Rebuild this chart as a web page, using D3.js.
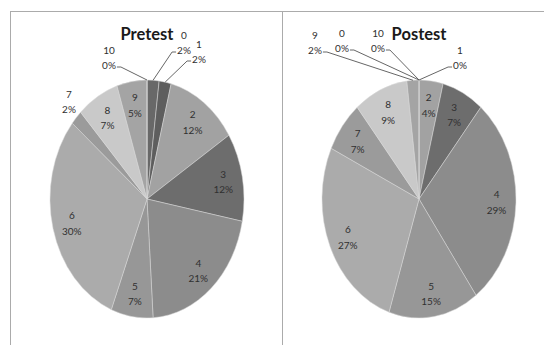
<!DOCTYPE html>
<html>
<head>
<meta charset="utf-8">
<script src="https://cdn.jsdelivr.net/npm/d3@7"></script>
<style>
  html, body { margin: 0; padding: 0; background: #fff; }
  svg { display: block; }
</style>
</head>
<body>
<svg id="chart" width="544" height="345"></svg>
<script>
// Score categories and the share of students in each (percent)
const categories = ["0", "1", "2", "3", "4", "5", "6", "7", "8", "9", "10"];
const pretestPct = [2, 2, 12, 12, 21, 7, 30, 2, 7, 5, 0];
const postestPct = [0, 0, 4, 7, 29, 15, 27, 7, 9, 2, 0];
const chartTitles = ["Pretest", "Postest"];

// Gray fill for each score category
const sliceGrays = ["#686868", "#5e5e5e", "#a2a2a2", "#6d6d6d", "#8c8c8c", "#979797",
                    "#ababab", "#9b9b9b", "#c9c9c9", "#a4a4a4", "#8a8a8a"];

// Labels that sit outside the pie: offsets of the label centre from the pie
// centre, and which side of the label the leader line leaves from.
const pretestCallouts = [
  { index: 0, dx: 37, dy: -157, side: "left", leader: true },
  { index: 1, dx: 52, dy: -148, side: "left", leader: true },
  { index: 10, dx: -38, dy: -142, side: "right", leader: true },
  { index: 7, dx: -78, dy: -98, side: "right", leader: false }
];
const postestCallouts = [
  { index: 9, dx: -104, dy: -157, side: "right", leader: true },
  { index: 0, dx: -77, dy: -159, side: "right", leader: true },
  { index: 10, dx: -41, dy: -159, side: "right", leader: true },
  { index: 1, dx: 41, dy: -142, side: "left", leader: true }
];

const svg = d3.select("#chart");
const W = 544, H = 345;

// Frame lines
const frame = svg.append("g").attr("stroke", "#ababab").attr("stroke-width", 1);
frame.append("line").attr("x1", 10).attr("x2", W).attr("y1", 11.5).attr("y2", 11.5);
frame.append("line").attr("x1", 10.5).attr("x2", 10.5).attr("y1", 11).attr("y2", H);
frame.append("line").attr("x1", 282.5).attr("x2", 282.5).attr("y1", 11).attr("y2", H);

const ry = 119, rx = 97;
const labelFont = "Lato, 'Open Sans', sans-serif";

function drawPie(values, title, cx, cy, callouts) {
  const g = svg.append("g");
  const pie = d3.pie().sort(null).value(d => d)(values);
  const arc = d3.arc().innerRadius(0).outerRadius(ry);

  // Pie squashed horizontally into an ellipse
  const pieG = g.append("g")
    .attr("transform", `translate(${cx},${cy}) scale(${rx / ry},1)`);
  pieG.selectAll("path")
    .data(pie)
    .join("path")
    .attr("d", arc)
    .attr("fill", (d, i) => sliceGrays[i])
    .attr("stroke", "#d8d8d8")
    .attr("stroke-width", 0.5)
    .attr("vector-effect", "non-scaling-stroke");

  // point on the ellipse at angle a and radial fraction f
  const at = (a, f) => [cx + rx * f * Math.sin(a), cy - ry * f * Math.cos(a)];

  g.append("text")
    .attr("x", cx).attr("y", 40)
    .attr("text-anchor", "middle")
    .attr("font-family", labelFont)
    .attr("font-weight", "bold")
    .attr("font-size", 16.5)
    .attr("fill", "#1a1a1a")
    .text(title);

  const calloutMap = new Map(callouts.map(c => [c.index, c]));
  const labels = g.append("g")
    .attr("font-family", labelFont)
    .attr("font-size", 10)
    .attr("fill", "#303030")
    .attr("text-anchor", "middle");

  pie.forEach((d, i) => {
    const mid = (d.startAngle + d.endAngle) / 2;
    const c = calloutMap.get(i);
    let lx, ly;
    if (c) { lx = cx + c.dx; ly = cy + c.dy; }
    else { [lx, ly] = at(mid, 0.8); }
    const t1 = labels.append("text").attr("x", lx).attr("y", ly - 3.5).text(categories[i]);
    const t2 = labels.append("text").attr("x", lx).attr("y", ly + 12).text(values[i] + "%");
    if (c && c.leader) {
      const bb = t2.node().getBBox();
      const sy = bb.y + bb.height / 2 + 2;
      const sx = c.side === "left" ? bb.x - 1 : bb.x + bb.width + 1;
      const hx = c.side === "left" ? sx - 4 : sx + 4;
      const [ex, ey] = at(mid, 1);
      g.append("path")
        .attr("d", `M${sx},${sy}L${hx},${sy}L${ex},${ey}`)
        .attr("fill", "none")
        .attr("stroke", "#555")
        .attr("stroke-width", 0.9);
    }
  });
}

drawPie(pretestPct, chartTitles[0], 147, 199, pretestCallouts);
drawPie(postestPct, chartTitles[1], 419, 199, postestCallouts);
</script>
</body>
</html>
